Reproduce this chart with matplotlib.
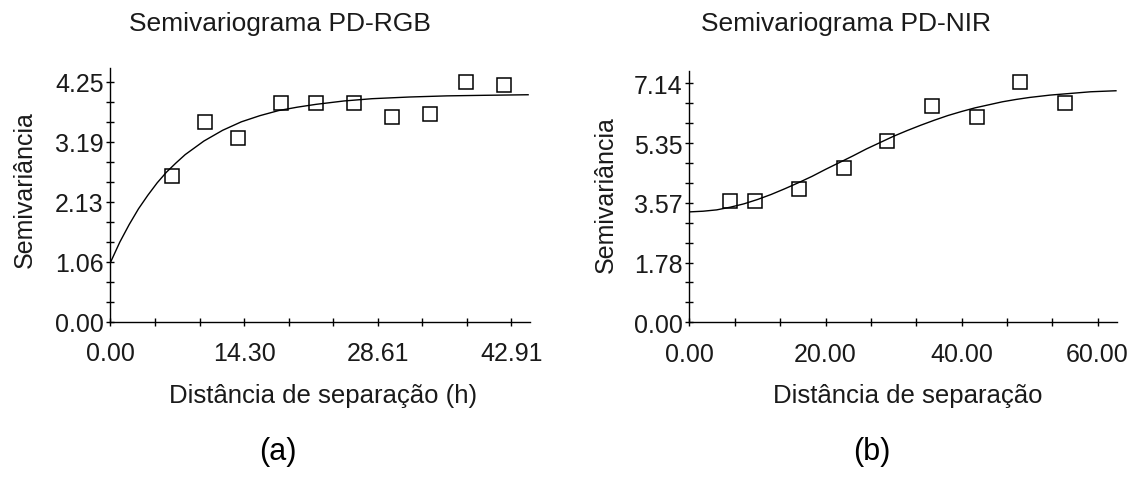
import matplotlib
matplotlib.use("Agg")
import matplotlib.pyplot as plt

plt.rcParams['font.family'] = ['Liberation Sans', 'DejaVu Sans']

# ---------------- data ----------------
rgb_lag = [6.6, 10.1, 13.7, 18.3, 22.0, 26.05, 30.1, 34.15, 38.05, 42.1]
rgb_gamma = [2.58, 3.54, 3.26, 3.88, 3.88, 3.88, 3.63, 3.68, 4.25, 4.20]

rgb_model_h = [0, 1, 2, 3, 4, 5, 6, 7, 8, 10, 12, 14, 16, 18, 20, 22, 25, 28,
               32, 36, 40, 44.7]
rgb_model_g = [1.05, 1.41, 1.72, 2.00, 2.24, 2.46, 2.65, 2.81, 2.96, 3.20, 3.39,
               3.54, 3.65, 3.74, 3.80, 3.85, 3.91, 3.95, 3.98, 4.00, 4.01, 4.02]

nir_lag = [5.9, 9.7, 16.1, 22.7, 29.1, 35.7, 42.3, 48.6, 55.2]
nir_gamma = [3.64, 3.62, 3.99, 4.62, 5.41, 6.45, 6.15, 7.19, 6.54]

nir_model_h = [0, 2, 4, 6, 8, 10, 12, 14, 16, 18, 20, 22, 24, 26, 28, 30, 32,
               34, 36, 38, 40, 42, 44, 46, 48, 50, 53, 56, 59, 62.7]
nir_model_g = [3.30, 3.32, 3.36, 3.44, 3.54, 3.67, 3.82, 3.99, 4.17, 4.36, 4.57,
               4.77, 4.97, 5.18, 5.37, 5.56, 5.73, 5.89, 6.04, 6.18, 6.30, 6.41,
               6.50, 6.59, 6.66, 6.72, 6.79, 6.84, 6.89, 6.92]

rgb_xticks = [0.0, 14.303, 28.607, 42.91]
rgb_xlabels = ["0.00", "14.30", "28.61", "42.91"]
rgb_yticks = [0.0, 1.0625, 2.125, 3.1875, 4.25]
rgb_ylabels = ["0.00", "1.06", "2.13", "3.19", "4.25"]

nir_xticks = [0.0, 20.0, 40.0, 60.0]
nir_xlabels = ["0.00", "20.00", "40.00", "60.00"]
nir_yticks = [0.0, 1.785, 3.57, 5.355, 7.14]
nir_ylabels = ["0.00", "1.78", "3.57", "5.35", "7.14"]

titles = ["Semivariograma PD-RGB", "Semivariograma PD-NIR"]
xlabels = ["Distância de separação (h)", "Distância de separação"]
ylabel = "Semivariância"
panel_tags = ["(a)", "(b)"]

TXT = '#1a1a1a'

fig = plt.figure(figsize=(11.4, 4.85), dpi=100)
ax1 = fig.add_axes([0.0969, 0.3346, 0.368, 0.5227])
ax2 = fig.add_axes([0.6048, 0.3334, 0.3753, 0.5188])


def style(ax, lag, gam, mh, mg, xt, xl, yt, yl, xmax, ymax):
    ax.plot(mh, mg, color='black', lw=1.0, zorder=2)
    ax.plot(lag, gam, linestyle='none', marker='s', markersize=9.5,
            markerfacecolor='none', markeredgecolor='black',
            markeredgewidth=1.1, zorder=3)
    ax.set_xlim(0, xmax)
    ax.set_ylim(0, ymax)
    for s in ['top', 'right']:
        ax.spines[s].set_visible(False)
    for s in ['left', 'bottom']:
        ax.spines[s].set_linewidth(1.0)
        ax.spines[s].set_color('black')
    ax.set_xticks(xt)
    ax.set_xticklabels(xl)
    ax.set_yticks(yt)
    ax.set_yticklabels(yl)
    xstep = (xt[1] - xt[0]) / 3.0
    ystep = (yt[1] - yt[0]) / 3.0
    ax.set_xticks([xstep * k for k in range(10) if k % 3 != 0], minor=True)
    ax.set_yticks([ystep * k for k in range(13) if k % 3 != 0], minor=True)
    ax.tick_params(axis='both', which='both', direction='inout', length=6,
                   width=1.0, color='black', labelcolor=TXT, labelsize=18)
    ax.tick_params(axis='x', which='major', pad=11)
    ax.tick_params(axis='y', which='major', pad=2)
    ax.patch.set_visible(False)


style(ax1, rgb_lag, rgb_gamma, rgb_model_h, rgb_model_g, rgb_xticks,
      rgb_xlabels, rgb_yticks, rgb_ylabels, 44.9, 4.49)
style(ax2, nir_lag, nir_gamma, nir_model_h, nir_model_g, nir_xticks,
      nir_xlabels, nir_yticks, nir_ylabels, 62.9, 7.52)

W, H = 1140.0, 485.0
# titles
fig.text(280 / W, 1 - 24 / H, titles[0], ha='center', va='center',
         fontsize=19, color=TXT)
fig.text(846 / W, 1 - 24 / H, titles[1], ha='center', va='center',
         fontsize=19, color=TXT)
# x labels
fig.text(323 / W, 1 - 396 / H, xlabels[0], ha='center', va='center',
         fontsize=18.5, color=TXT)
fig.text(908 / W, 1 - 396 / H, xlabels[1], ha='center', va='center',
         fontsize=18.5, color=TXT)
# y labels
fig.text(25 / W, 1 - 190 / H, ylabel, ha='center', va='center',
         rotation=90, fontsize=18, color=TXT)
fig.text(606 / W, 1 - 195 / H, ylabel, ha='center', va='center',
         rotation=90, fontsize=18, color=TXT)
# panel tags
fig.text(278 / W, 1 - 452 / H, panel_tags[0], ha='center', va='center',
         fontsize=22, color='black')
fig.text(872 / W, 1 - 452 / H, panel_tags[1], ha='center', va='center',
         fontsize=22, color='black')

fig.savefig('out.png', dpi=100, facecolor='white')
